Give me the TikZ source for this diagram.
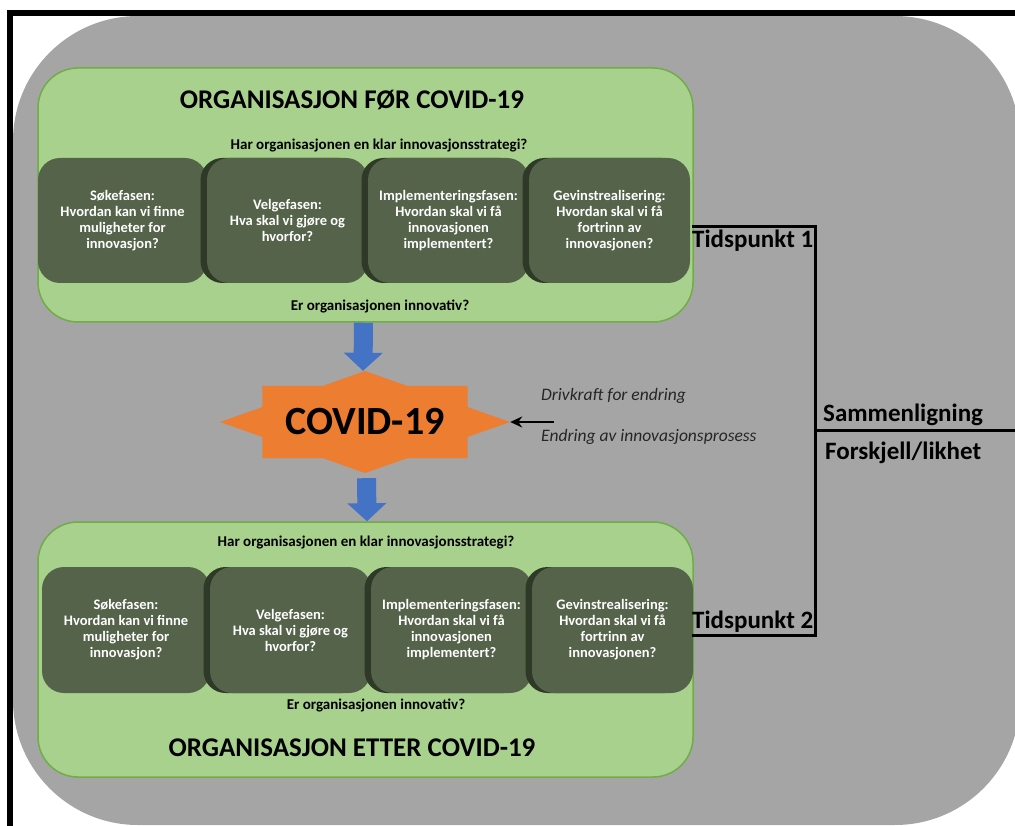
\documentclass[tikz,border=0pt]{standalone}
\usepackage{fontspec}
\setmainfont{Carlito}
\usetikzlibrary{positioning,arrows.meta,calc,shadows}

\definecolor{panelgray}{HTML}{A5A5A5}
\definecolor{orggreen}{HTML}{A9D18E}
\definecolor{orgedge}{HTML}{70AD47}
\definecolor{phasegreen}{HTML}{54634A}
\definecolor{phaseedge}{HTML}{2E3928}
\definecolor{covidorange}{HTML}{ED7D31}
\definecolor{flowblue}{HTML}{4472C4}

\begin{document}
\begin{tikzpicture}[x=1pt, y=-1pt]
  % Styles
  \tikzstyle{org}=[rectangle, draw=orgedge, fill=orggreen, line width=1.5pt, rounded corners=40pt, minimum width=655pt, minimum height=254pt]
  \tikzstyle{phase}=[rectangle, fill=phasegreen, rounded corners=22pt, minimum width=161pt, minimum height=125pt, outer sep=0pt, inner sep=0pt, align=center, text=white, font=\fontsize{14.5}{16}\selectfont\bfseries]
  \tikzstyle{joined}=[drop shadow={shadow xshift=-6.5pt, shadow yshift=0pt, fill=phaseedge, opacity=1}]
  \tikzstyle{question}=[font=\fontsize{15}{18}\selectfont\bfseries, inner sep=0pt]
  \tikzstyle{title}=[font=\fontsize{27}{32}\selectfont\bfseries, inner sep=0pt]
  \tikzstyle{flow}=[-{Triangle[width=38pt, length=18pt]}, flowblue, line width=19pt]
  \tikzstyle{bracket}=[line width=3pt]
  \tikzstyle{side}=[font=\fontsize{25}{30}\selectfont\bfseries, inner sep=0pt, anchor=base west]
  \tikzstyle{note}=[font=\fontsize{17.5}{20}\selectfont\itshape, inner sep=0pt, anchor=west, text=black!85]

  \useasboundingbox (0,0) rectangle (1015,826);

  % Frame and background
  \fill[panelgray, rounded corners=125pt] (13,16) rectangle (1020,825);
  \draw[line width=6pt] (10,13) -- (1015,13);
  \draw[line width=6pt] (10,10) -- (10,826);

  % Organisation before
  \node[org] (before) at (365.5,195) {};
  \node[title] (beforetitle) at (352,100) {ORGANISASJON FØR COVID-19};
  \node[question] (beforeq) at (379,146) {Har organisasjonen en klar innovasjonsstrategi?};
  \node[phase, minimum width=169pt] (search1) at (122.5,220.5) {Søkefasen:\\Hvordan kan vi finne\\muligheter for\\innovasjon?};
  \node[phase, joined, right=0pt of search1] (select1) {Velgefasen:\\Hva skal vi gjøre og\\hvorfor?};
  \node[phase, joined, right=0pt of select1] (implement1) {Implementeringsfasen:\\Hvordan skal vi få\\innovasjonen\\implementert?};
  \node[phase, joined, right=0pt of implement1] (gain1) {Gevinstrealisering:\\Hvordan skal vi få\\fortrinn av\\innovasjonen?};
  \node[question] (innov1) at (380,306) {Er organisasjonen innovativ?};

  % The star
  \coordinate (star) at (365,422);
  \fill[covidorange] ($(star)+(0:145 and 51)$)
    \foreach \a in {0,45,...,315} { -- ($(star)+({\a+22.5}:111 and 39)$) -- ($(star)+({\a+45}:145 and 51)$) } -- cycle;
  \node[minimum width=290pt, minimum height=102pt, inner sep=0pt, font=\fontsize{40}{44}\selectfont\bfseries] (covid) at (star) {COVID-19};

  % Organisation after
  \node[org, minimum height=255pt] (after) at (365.5,649.5) {};
  \node[question] (afterq) at (366,543) {Har organisasjonen en klar innovasjonsstrategi?};
  \node[phase, minimum width=168pt, minimum height=126pt] (search2) at (126,630) {Søkefasen:\\Hvordan kan vi finne\\muligheter for\\innovasjon?};
  \node[phase, joined, minimum height=126pt, right=0pt of search2] (select2) {Velgefasen:\\Hva skal vi gjøre og\\hvorfor?};
  \node[phase, joined, minimum height=126pt, right=0pt of select2] (implement2) {Implementeringsfasen:\\Hvordan skal vi få\\innovasjonen\\implementert?};
  \node[phase, joined, minimum height=126pt, right=0pt of implement2] (gain2) {Gevinstrealisering:\\Hvordan skal vi få\\fortrinn av\\innovasjonen?};
  \node[question] (innov2) at (376,705) {Er organisasjonen innovativ?};
  \node[title] (aftertitle) at (352,748) {ORGANISASJON ETTER COVID-19};

  % Block arrows through the star
  \draw[flow] ([xshift=-2pt]before.south) -- ([xshift=-2pt]covid.north);
  \draw[flow, shorten <=5pt] ([xshift=1.5pt]covid.south) -- ([xshift=1.5pt]after.north);

  % Driving force
  \coordinate (drive) at ($(covid.east)+(44,0)$);
  \draw[-{Stealth[length=12pt, width=11pt]}, line width=2.5pt] (drive) -- (covid.east);
  \node[note] (drivetext) at (541,396) {Drivkraft for endring};
  \node[note] (changetext) at (541,437) {Endring av innovasjonsprosess};

  % Comparison bracket
  \node[side] (time1) at (692,248) {Tidspunkt 1};
  \node[side] (time2) at (692,628) {Tidspunkt 2};
  \node[side] (compare) at (823,421) {Sammenligning};
  \node[side] (diff) at (825,459) {Forskjell/likhet};
  \coordinate (top1) at (692,227);
  \coordinate (corner1) at (815,227);
  \coordinate (corner2) at (815,635);
  \coordinate (bottom2) at (692,635);
  \coordinate (split) at (815,430);
  \coordinate (splitend) at (1015,430);
  \draw[bracket] (top1) -- (corner1) -- (corner2) -- (bottom2);
  \draw[bracket] (split) -- (splitend);
\end{tikzpicture}
\end{document}
